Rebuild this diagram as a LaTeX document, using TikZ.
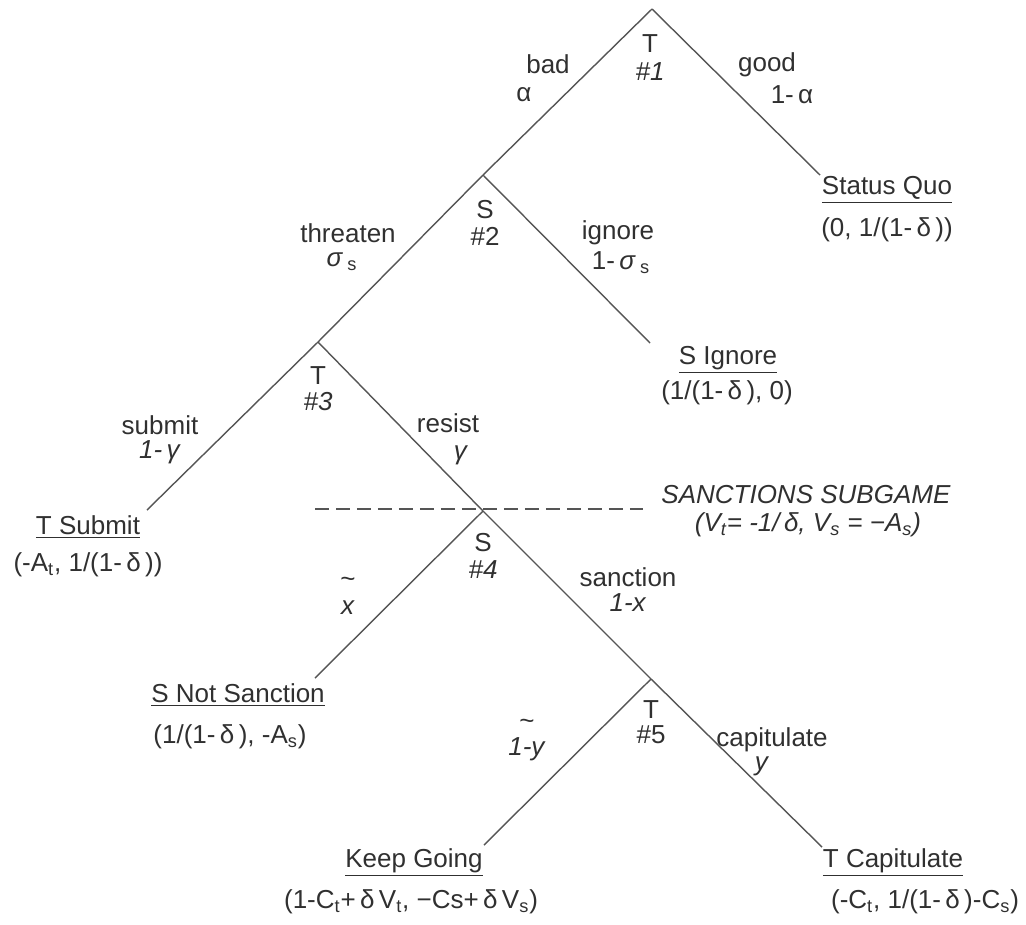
\documentclass[tikz,border=0pt]{standalone}
\usepackage{fontspec}
\setmainfont{Liberation Sans}
\usetikzlibrary{calc}
\definecolor{ink}{HTML}{303030}
\definecolor{wire}{HTML}{555555}
\tikzset{every node/.style={font=\fontsize{14.8}{15.3}\selectfont,text=ink,inner sep=1pt},edge/.style={draw=wire,line width=.8pt},cut/.style={draw=wire,line width=.8pt,dash pattern=on .28cm off .14cm},stack/.style={align=center}}

\begin{document}
\begin{tikzpicture}[x=.02cm,y=-.02cm]
\useasboundingbox (0,0) rectangle (1026,924);
% decision points
\coordinate (r) at (652,9);\coordinate (n2) at (483,175);\coordinate (n3) at (318,342);\coordinate (n4) at (483,511);\coordinate (n5) at (651,679);
% outcome ends
\coordinate (sq) at (820,175);\coordinate (si) at (650,343);\coordinate (ts) at (147,510);\coordinate (sn) at (315,678);\coordinate (kg) at (484,845);\coordinate (tc) at (822,847);
\foreach \a/\b in {r/n2,r/sq,n2/n3,n2/si,n3/ts,n3/n4,n4/sn,n4/n5,n5/kg,n5/tc}{\draw[edge] (\a)--(\b);}
\coordinate (d0) at (315,509);\coordinate (d1) at (643,509);\draw[cut] (d0)--(d1);
% who moves
\node (p1) at (650,44){T};\node (h1) at (650,72){\textit{\#1}};
\node (p2) at (485,210){S};\node (h2) at (485,236){\#2};
\node (p3) at (318,376){T};\node (h3) at (318,402){\textit{\#3}};
\node (p4) at (483,543){S};\node (h4) at (483,570){\textit{\#4}};
\node (p5) at (651,710){T};\node (h5) at (651,735){\#5};
% moves
\node (bad) at (548,64){bad};\node (al) at (524,95){α};
\node (good) at (767,65){good};\node (nal) at (792,95){1-\,α};
\node (thr) at (348,233){threaten};\node (sg) at (342,262){\textit{σ}\,\textsubscript{s}};
\node (ign) at (618,233){ignore};\node (nsg) at (621,263){1-\,\textit{σ}\,\textsubscript{s}};
\node (sub) at (160,425){submit};\node (ngm) at (160,452){\textit{1-\,γ}};
\node (res) at (448,423){resist};\node (gm) at (461,455){\textit{γ}};
\node[stack] (xt) at (348,596){\textasciitilde\\[0pt]\textit{x}};
\node (san) at (628,577){sanction};\node (nx) at (628,603){\textit{1-x}};
\node[stack] (nyt) at (527,740){\textasciitilde\\[0pt]\textit{1-y}};
\node (cap) at (772,740){capitulate};\node (yy) at (762,766){\textit{y}};
\node (sub1) at (806,495){\textit{SANCTIONS SUBGAME}};
\node (sub2) at (808,525){\textit{(V\textsubscript{t}= -1/\,δ, V\textsubscript{s} = −A\textsubscript{s})}};
% outcomes
\node (lsq) at (887,190){\underline{Status Quo}};\node (vsq) at (887,230){(0, 1/(1-\,δ\,))};
\node (lsi) at (728,360){\underline{S Ignore}};\node (vsi) at (727,393){(1/(1-\,δ\,), 0)};
\node (lts) at (88,527){\underline{T Submit}};\node (vts) at (88,565){(-A\textsubscript{t}, 1/(1-\,δ\,))};
\node (lsn) at (238,695){\underline{S Not Sanction}};\node (vsn) at (230,737){(1/(1-\,δ\,), -A\textsubscript{s})};
\node (lkg) at (414,863){\underline{Keep Going}};\node (vkg) at (411,902){(1-C\textsubscript{t}+\,δ\,V\textsubscript{t}, −Cs+\,δ\,V\textsubscript{s})};
\node (ltc) at (893,863){\underline{T Capitulate}};\node (vtc) at (925,902){(-C\textsubscript{t}, 1/(1-\,δ\,)-C\textsubscript{s})};
\end{tikzpicture}
\end{document}
